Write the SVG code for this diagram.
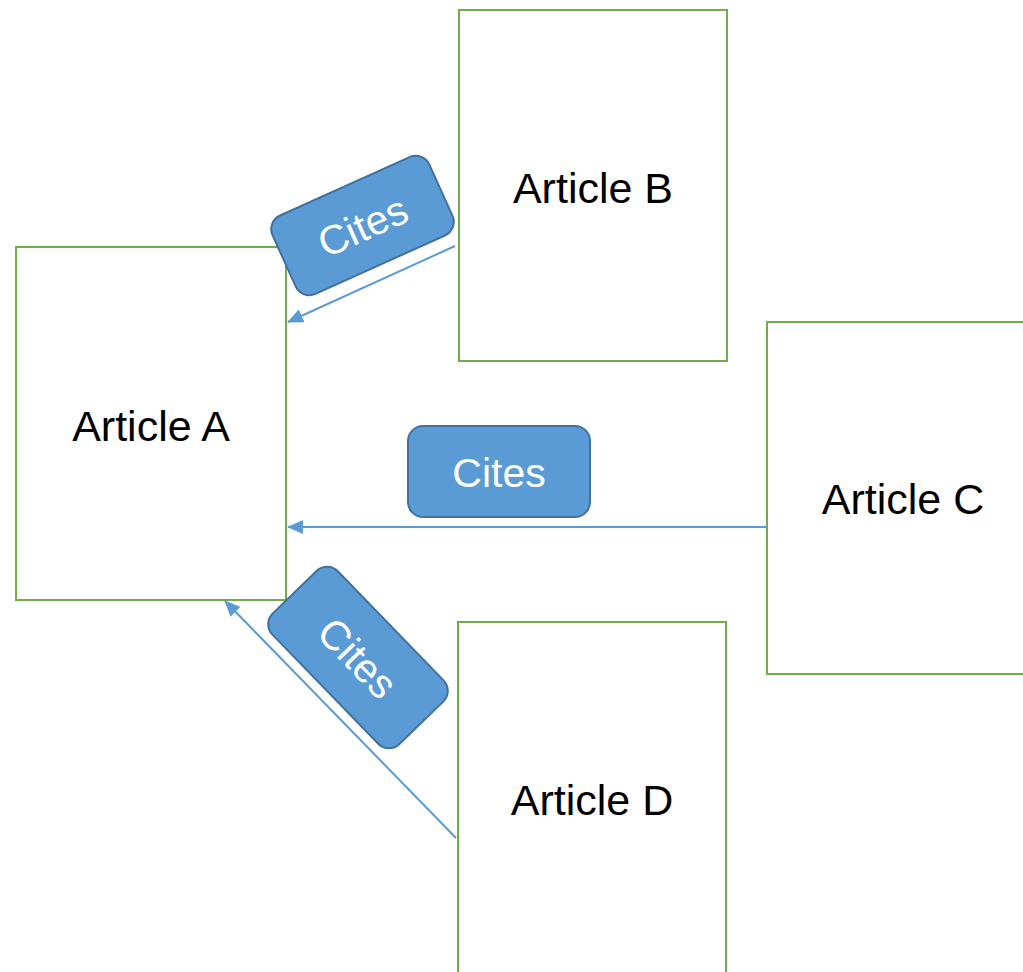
<svg xmlns="http://www.w3.org/2000/svg" width="1023" height="972" viewBox="0 0 1023 972">
<style>
.node{fill:#fff;stroke:#70AD47;stroke-width:2}
.lbl{font-family:"Liberation Sans",Arial,sans-serif;font-size:43px;fill:#000;text-anchor:middle}
.conn{stroke:#5B9BD5;stroke-width:2;fill:none}
.tag{fill:#5B9BD5;stroke:#41719C;stroke-width:2}
.tagt{font-family:"Liberation Sans",Arial,sans-serif;font-size:41px;fill:#fff;text-anchor:middle}
</style>
<defs>
<marker id="ah" markerUnits="userSpaceOnUse" markerWidth="16" markerHeight="14" refX="15" refY="7" orient="auto">
<path d="M0,0 L16,7 L0,14 Z" fill="#5B9BD5"/>
</marker>
</defs>
<rect width="1023" height="972" fill="#fff"/>
<g id="nodeA"><rect class="node" x="16" y="247" width="270" height="353"/><text class="lbl" x="151" y="441">Article A</text></g>
<g id="nodeB"><rect class="node" x="459" y="10" width="268" height="351"/><text class="lbl" x="593" y="203">Article B</text></g>
<g id="nodeC"><rect class="node" x="767" y="322" width="270" height="352"/><text class="lbl" x="903" y="514">Article C</text></g>
<g id="nodeD"><rect class="node" x="458" y="622" width="268" height="360"/><text class="lbl" x="592" y="815">Article D</text></g>
<g id="connectors">
<line class="conn" x1="455" y1="246" x2="288" y2="322" marker-end="url(#ah)"/>
<line class="conn" x1="767" y1="527" x2="288" y2="527" marker-end="url(#ah)"/>
<line class="conn" x1="456" y1="838" x2="225" y2="601" marker-end="url(#ah)"/>
</g>
<g id="tag1" transform="translate(362.5,225.5) rotate(-24.3)"><rect class="tag" x="-86" y="-43" width="172" height="86" rx="15"/><text class="tagt" x="0" y="15">Cites</text></g>
<g id="tag2" transform="translate(499,471.5)"><rect class="tag" x="-91" y="-45.5" width="182" height="91" rx="15"/><text class="tagt" x="0" y="15">Cites</text></g>
<g id="tag3" transform="translate(358,657.5) rotate(45.9)"><rect class="tag" x="-91" y="-45.5" width="182" height="91" rx="15"/><text class="tagt" x="0" y="15">Cites</text></g>
</svg>
